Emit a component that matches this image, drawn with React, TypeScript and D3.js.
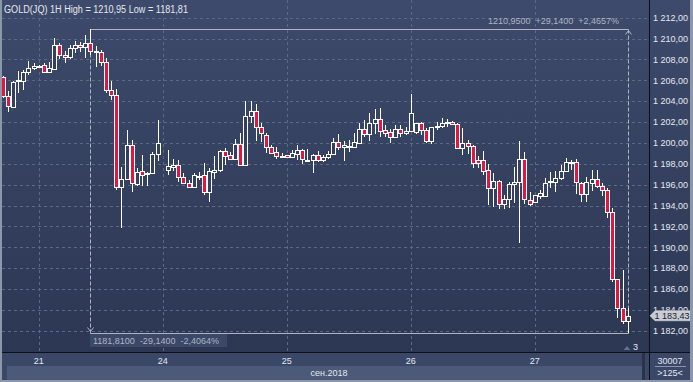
import React from "react";
import * as d3 from "d3";

const W = 693;
const H = 382;

// OHLC hourly bars (slot index = position; null = missing hour)
const opens: (number | null)[] = [1206.29,1204.53,1203.44,1205.9,1205.9,1206.8,1207.15,1207.35,1207.5,1206.77,
1207.12,1209.42,1208.46,1208.2,1209.1,1209.42,1209.2,1209.58,1208.72,1208.72,
1207.76,1205.1,1204.6,1195.82,1196.53,1199.79,1196.08,1197.3,1197.05,1197.1,
1198.96,null,1197.42,1197.71,1197.87,1196.69,1196.2,1195.8,1196.8,1196.91,
1195.31,1197.23,1197.39,1199.22,1198.8,1198.45,1199.86,1197.84,1202.58,1203.02,
1201.49,1200.75,1199.57,1199.09,1198.74,1198.8,1198.61,1198.93,1199.31,1198.33,
1198.35,1198.83,1198.35,1198.61,1198.93,1200.05,1199.6,1199.68,1199.63,1200.02,
1201.3,1200.82,1201.87,1202.29,1201.23,1201.0,1200.53,1201.3,1200.91,1201.17,
1201.0,1201.87,1201.23,1200.18,1201.49,1201.62,1201.87,1202.03,1201.81,1199.47,
1200.02,1199.7,1198.35,1198.35,1197.39,1195.63,1196.34,1194.1,1194.67,1196.05,
1196.27,1198.42,1194.51,1194.35,1194.93,1194.93,1196.34,1196.27,1196.59,1197.33,
1198.03,1198.13,1196.11,1195.15,1196.17,1196.5,1195.86,1195.47,1193.33,1187.0,
1184.21,1182.93];

const highs: (number | null)[] = [1206.4,1205.0,1205.9,1206.86,1207.0,1207.82,1207.66,1207.45,1207.66,1207.8,
1210.06,1209.58,1208.78,1209.36,1209.74,1209.65,1210.38,1210.95,1209.26,1208.94,
1208.14,1205.97,1205.17,1197.65,1201.2,1200.3,1197.58,1198.86,1197.17,1199.09,
1202.16,null,1199.34,1198.45,1198.35,1197.07,1196.43,1197.07,1197.23,1198.03,
1197.55,1198.74,1199.31,1199.47,1199.15,1200.34,1200.91,1204.05,1204.05,1203.73,
1201.87,1200.91,1199.79,1199.63,1198.99,1198.85,1199.31,1199.79,1199.41,1199.41,
1198.93,1199.25,1198.83,1199.22,1200.43,1200.82,1200.18,1200.27,1200.91,1201.87,
1202.19,1202.83,1203.25,1203.31,1201.71,1201.3,1201.71,1201.71,1201.55,1204.69,
1201.94,1202.03,1201.39,1201.55,1202.03,1202.35,1202.26,1202.13,1201.87,1201.39,
1200.27,1199.79,1198.74,1199.2,1198.0,1197.1,1196.43,1194.99,1196.27,1197.71,
1200.18,1199.09,1195.31,1194.99,1195.47,1196.59,1197.17,1197.3,1197.87,1198.51,
1198.35,1198.45,1196.27,1196.75,1197.39,1197.39,1196.11,1195.63,1193.72,1187.0,
1187.86,1184.18];

const lows: (number | null)[] = [1204.3,1203.0,1203.4,1204.78,1205.04,1206.48,1206.96,1207.25,1206.7,1206.7,
1207.02,1208.08,1207.66,1208.05,1208.62,1208.7,1208.14,1208.46,1207.28,1207.34,
1204.78,1204.14,1195.44,1191.82,1196.47,1195.34,1195.89,1195.89,1195.9,1196.98,
1198.22,null,1196.88,1197.33,1196.27,1196.11,1195.73,1195.73,1196.43,1194.99,
1194.35,1196.53,1197.17,1197.87,1198.35,1198.35,1197.84,1197.84,1201.87,1200.21,
1200.11,1198.99,1198.93,1198.45,1198.51,1198.58,1198.51,1198.35,1197.97,1198.19,
1197.07,1198.19,1198.19,1198.42,1198.83,1199.31,1198.29,1199.15,1199.47,1199.95,
1200.53,1200.21,1200.85,1200.59,1200.59,1199.95,1200.43,1200.59,1200.75,1201.07,
1200.85,1200.75,1200.02,1199.89,1201.23,1201.39,1201.55,1201.71,1199.41,1198.83,
1198.93,1197.55,1197.55,1196.91,1194.03,1193.81,1193.62,1193.62,1193.78,1194.26,
1190.42,1194.1,1193.97,1194.35,1194.67,1194.8,1195.63,1195.31,1196.43,1197.33,
1197.39,1195.15,1194.35,1194.35,1195.38,1195.7,1194.9,1192.82,1186.62,1183.21,
1182.67,1181.81];

const closes: (number | null)[] = [1204.46,1203.5,1205.84,1206.0,1206.8,1207.18,1207.4,1207.38,1206.8,1207.18,
1209.42,1208.4,1208.24,1209.1,1209.42,1209.23,1209.58,1208.82,1208.85,1207.76,
1205.04,1204.6,1195.82,1196.53,1199.79,1196.14,1197.2,1196.9,1197.12,1198.96,
1199.98,null,1197.74,1197.87,1196.69,1196.18,1195.8,1196.91,1196.85,1195.31,
1197.3,1197.45,1199.22,1198.77,1198.5,1199.86,1197.84,1202.58,1203.06,1201.55,
1200.91,1199.63,1199.06,1198.77,1198.77,1198.61,1199.06,1199.31,1198.42,1198.37,
1198.83,1198.35,1198.61,1198.93,1200.05,1199.63,1199.8,1199.74,1200.05,1201.3,
1200.82,1201.87,1202.29,1201.17,1200.98,1200.53,1201.3,1200.91,1201.17,1202.83,
1201.87,1201.23,1200.18,1201.49,1201.65,1201.94,1202.03,1201.81,1199.47,1200.02,
1199.7,1198.03,1198.1,1197.33,1195.63,1196.34,1194.1,1194.67,1196.05,1196.21,
1198.42,1194.58,1194.19,1194.99,1195.22,1196.2,1196.37,1196.59,1197.3,1198.13,
1198.19,1196.21,1195.15,1196.21,1196.5,1195.86,1195.47,1193.33,1186.94,1184.18,
1182.93,1183.43];

const dayLabels = ["21", "24", "25", "26", "27"];
const daySlots = [7, 31, 55, 79, 103];
const yTicks = d3.range(1182, 1213, 2);

const title = "GOLD(JQ) 1H High = 1210,95 Low = 1181,81";
const measureHigh = 1210.95;
const measureLow = 1181.81;
const measureFrom = 17;
const measureTo = 121;
const measureTopText = "1210,9500  +29,1400  +2,4657%";
const measureBottomText = "1181,8100  -29,1400  -2,4064%";
const lastPrice = 1183.43;
const monthLabel = "сен.2018";
const volLabel = "30007";
const barsLabel = ">125<";
const countLabel = "3";

const FONT = "'Liberation Sans', Arial, sans-serif";
const RED = "#e3163f";
const GRID = "#5b6988";
const TXT = "#e4e8f0";
const MEAS = "#aeb5c2";

export default function App() {
  const plotL = 2, plotR = 649, plotB = 352;
  const x = d3.scaleLinear().domain([0, 126]).range([2.5, 653.6]);
  const y = d3.scaleLinear().domain([1182, 1212]).range([330.7, 17.7]);
  const nf = d3.formatLocale({ decimal: ",", thousands: "\u00a0", grouping: [3], currency: ["", ""] }).format(",.2f");

  const candles = opens.map((o, i) => ({ i, o, h: highs[i], l: lows[i], c: closes[i] })).filter(d => d.o != null);

  const xm1 = Math.round(x(measureFrom)) + 0.5;
  const xm2 = Math.round(x(measureTo)) + 0.5;
  const ymH = Math.round(y(measureHigh)) + 0.5;
  const ymL = Math.round(y(measureLow)) + 0.5;
  const yLast = y(lastPrice);

  return (
    <svg width={W} height={H} style={{ position: "fixed", left: 0, top: 0, display: "block" }} fontFamily={FONT}>
      <defs>
        <linearGradient id="bg" x1="0" y1="0" x2="0" y2="1">
          <stop offset="0" stopColor="#3d4a6b" />
          <stop offset="1" stopColor="#2c3753" />
        </linearGradient>
        <clipPath id="plot">
          <rect x={plotL} y={0} width={plotR - plotL} height={plotB} />
        </clipPath>
        <clipPath id="above-last">
          <rect x={650} y={0} width={43} height={yLast - 5} />
        </clipPath>
      </defs>
      {/* backgrounds */}
      <rect x={0} y={0} width={W} height={plotB} fill="url(#bg)" />
      <rect x={0} y={plotB} width={W} height={H - plotB} fill="#3a4767" />
      <rect x={7} y={366} width={636} height={14} fill="#4b5a78" />
      <rect x={642} y={353} width={3} height={27} fill="#2a3348" />

      {/* grid */}
      <g clipPath="url(#plot)">
        {yTicks.map(t => (
          <line key={t} x1={plotL} x2={plotR} y1={Math.round(y(t)) + 0.5} y2={Math.round(y(t)) + 0.5}
            stroke={GRID} strokeDasharray="3,3" />
        ))}
        {daySlots.map(s => (
          <line key={s} x1={Math.round(x(s)) + 0.5} x2={Math.round(x(s)) + 0.5} y1={0} y2={plotB}
            stroke={GRID} strokeDasharray="3,3" />
        ))}
      </g>

      {/* measurement */}
      <g clipPath="url(#plot)">
        <rect x={90} y={334} width={137} height={13} fill="#3b4868" />
        <line x1={xm1} x2={xm2} y1={ymH} y2={ymH} stroke={MEAS} />
        <line x1={xm1} x2={xm2} y1={ymL} y2={ymL} stroke={MEAS} />
        <line x1={xm1} x2={xm1} y1={ymH} y2={ymL} stroke={MEAS} strokeDasharray="4,2" />
        <line x1={xm2} x2={xm2} y1={ymH} y2={ymL} stroke={MEAS} strokeDasharray="4,2" />
        <path d={`M${xm2 - 3},${ymH + 5} L${xm2},${ymH + 1} L${xm2 + 3},${ymH + 5}`} fill="none" stroke={MEAS} />
        <path d={`M${xm1 - 3},${ymL - 6} L${xm1},${ymL - 2} L${xm1 + 3},${ymL - 6}`} fill="none" stroke={MEAS} />
        <text x={619} y={24} fontSize={9} fill={MEAS} textAnchor="end" style={{ whiteSpace: "pre" }}>{measureTopText}</text>
        <text x={93} y={344} fontSize={9} fill={MEAS} style={{ whiteSpace: "pre" }}>{measureBottomText}</text>
      </g>

      {/* candles */}
      <g clipPath="url(#plot)">
        {candles.map(d => {
          const cx = Math.round(x(d.i));
          const up = (d.c as number) >= (d.o as number);
          const yTop = Math.round(y(Math.max(d.o as number, d.c as number)));
          const yBot = Math.max(yTop + 1, Math.round(y(Math.min(d.o as number, d.c as number))));
          const yH = Math.round(y(d.h as number));
          const yL = Math.round(y(d.l as number));
          return (
            <g key={d.i}>
              {yH < yTop && <line x1={cx + 0.5} x2={cx + 0.5} y1={yH} y2={yTop} stroke="#fff" />}
              {yL > yBot && <line x1={cx + 0.5} x2={cx + 0.5} y1={yBot} y2={yL} stroke="#fff" />}
              <rect x={cx - 1.5} y={yTop + 0.5} width={4} height={yBot - yTop} fill={up ? "#34405f" : RED} stroke="#fff" />
            </g>
          );
        })}
      </g>

      {/* title */}
      <text x={4} y={13} fontSize={10} fill={TXT} textLength={184} lengthAdjust="spacingAndGlyphs">{title}</text>

      {/* separators */}
      <line x1={649.5} x2={649.5} y1={0} y2={H} stroke="#0d1018" />
      <line x1={0} x2={W} y1={352.5} y2={352.5} stroke="#0d1018" />

      {/* y axis labels */}
      {yTicks.map(t => (
        <text key={t} x={653} y={y(t) + 3.3} fontSize={9} fill={TXT}
          clipPath={t === 1184 ? "url(#above-last)" : undefined}>{nf(t)}</text>
      ))}
      {/* last price label */}
      <path d={`M650,${yLast} L655,${yLast - 5} L690,${yLast - 5} L690,${yLast + 5} L655,${yLast + 5} Z`} fill="#c9ccd3" stroke="#e6e8ec" strokeWidth={0.5} />
      <text x={654.5} y={yLast + 3.3} fontSize={9} fill="#1c2233">{nf(lastPrice)}</text>

      {/* count marker */}
      <path d="M623.5,350 L627,346 L630.5,350 Z" fill="#66708a" />
      <text x={633} y={350} fontSize={9} fill={TXT}>{countLabel}</text>

      {/* x axis labels */}
      {daySlots.map((s, k) => (
        <text key={s} x={x(s)} y={364} fontSize={9} fill={TXT} textAnchor="middle">{dayLabels[k]}</text>
      ))}
      <text x={329} y={376} fontSize={9} fill={TXT} textAnchor="middle">{monthLabel}</text>

      {/* right bottom cell */}
      <text x={670} y={364} fontSize={9} fill={TXT} textAnchor="middle">{volLabel}</text>
      <line x1={655} x2={686} y1={366.5} y2={366.5} stroke="#8a95aa" />
      <text x={670} y={376} fontSize={9} fill={TXT} textAnchor="middle">{barsLabel}</text>

      {/* frame */}
      <rect x={0} y={0} width={2} height={H} fill="#8d97aa" />
      <rect x={690} y={0} width={3} height={H} fill="#8d97aa" />
      <rect x={0} y={380} width={W} height={2} fill="#8d97aa" />
    </svg>
  );
}
